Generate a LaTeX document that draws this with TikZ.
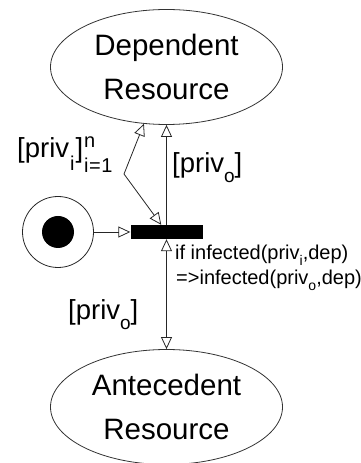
\documentclass[tikz,border=0pt]{standalone}
\usepackage{fontspec}
\setmainfont{Liberation Sans}
\usetikzlibrary{arrows.meta,shapes.geometric}
\newcommand\lsub[3]{\raisebox{-#1}{\fontsize{#2}{#2}\selectfont #3}}
\begin{document}
\begin{tikzpicture}[x=1pt,y=1pt,
  res/.style={ellipse,draw=black!80,line width=0.8pt,minimum width=232pt,minimum height=115pt,
    inner sep=0pt,align=center,font=\fontsize{29.5}{44}\selectfont},
  arc/.style={draw=black!85,line width=0.8pt,-{Triangle[open,length=12pt,width=11pt]}},
  biarc/.style={draw=black!85,line width=0.8pt,{Triangle[open,length=12pt,width=11pt]}-{Triangle[open,length=12pt,width=11pt]}},
  lbl/.style={inner sep=0pt,anchor=base west,font=\fontsize{27.5}{27.5}\selectfont},
  cond/.style={inner sep=0pt,anchor=base west,font=\fontsize{20}{20}\selectfont}]
\useasboundingbox (0,0) rectangle (361,463);
\node[res] (dep) at (166.5,396) {Dependent\\Resource};
\node[res] (ant) at (166.5,56) {Antecedent\\Resource};
\node[fill=black,minimum width=72pt,minimum height=14pt,inner sep=0pt] (bar) at (166.5,231) {};
\node[circle,draw=black!85,line width=0.8pt,minimum size=71pt,inner sep=0pt] (place) at (58,231) {};
\node[circle,fill=black,minimum size=32pt,inner sep=0pt] (tok) at (place) {};
\coordinate (k) at (124,289);
\draw[arc] (place) -- (bar);
\draw[arc] (k) -- (dep);
\draw[arc] (k) -- (bar);
\draw[arc] (bar.north) -- (dep.south);
\draw[biarc] (bar.south) -- (ant.north);
\node[lbl] (l1) at (17,305) {[priv\kern1pt\lsub{13pt}{20}{i}\kern1pt]\kern1pt\rlap{\raisebox{10pt}{\fontsize{20}{20}\selectfont n}}\lsub{15pt}{20}{i\kern0.5pt=\kern0.5pt1}};
\node[lbl] (l2) at (172,290) {[priv\lsub{10pt}{19}{o}]};
\node[lbl] (l3) at (68,143) {[priv\lsub{10pt}{19}{o}]};
\node[cond] (c1) at (175,203) {if infected(priv\lsub{6pt}{14}{i},dep)};
\node[cond] (c2) at (176,178) {=>infected(priv\lsub{6pt}{14}{o},dep)};
\end{tikzpicture}
\end{document}
